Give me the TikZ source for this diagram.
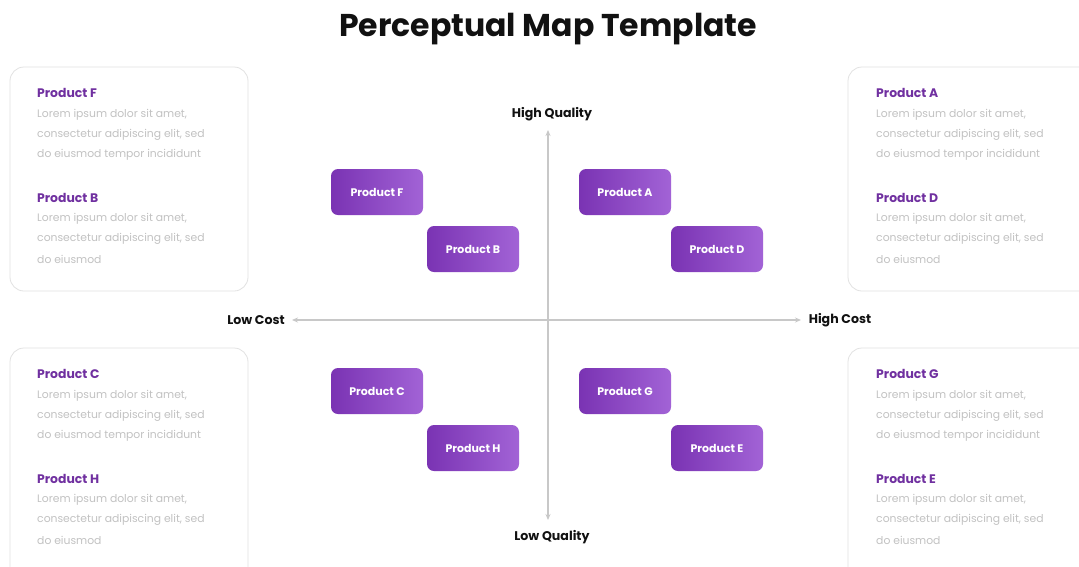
\documentclass[tikz,border=0pt]{standalone}
\usepackage{fontspec}
\setmainfont{Poppins}
\usetikzlibrary{arrows.meta}
\definecolor{ptitle}{HTML}{111111}
\definecolor{phead}{HTML}{7030A0}
\definecolor{plorem}{HTML}{C2C2C2}
\definecolor{pborder}{HTML}{E2E2E2}
\definecolor{pleft}{HTML}{7A33B3}
\definecolor{pright}{HTML}{A263D6}
\definecolor{paxis}{HTML}{C8C8C8}
\tikzset{
  x=1pt, y=-1pt,
  infobox/.style={draw=pborder, line width=0.8pt, rounded corners=14pt},
  head/.style={anchor=west, text=phead, font=\fontsize{12.4}{14}\selectfont\bfseries, inner sep=0pt},
  lorem/.style={anchor=west, text=plorem, font=\fontsize{10.8}{12}\selectfont, inner sep=0pt},
  prod/.style={rounded corners=7pt, left color=pleft, right color=pright, minimum width=92pt, minimum height=46pt, text=white, font=\fontsize{11}{13}\selectfont\bfseries, inner sep=0pt},
  axlabel/.style={font=\fontsize{12.6}{14}\selectfont\bfseries, text=ptitle, inner sep=0pt},
  axis/.style={draw=paxis, line width=1.2pt, {Stealth[length=6pt,width=5pt]}-{Stealth[length=6pt,width=5pt]}}
}
\begin{document}
\begin{tikzpicture}
\useasboundingbox[fill=white] (0,0) rectangle (1079,566);
\clip (0,0) rectangle (1079,566);
\node[font=\fontsize{31.5}{34}\selectfont\bfseries, text=ptitle] (title) at (548,29) {Perceptual Map Template};

% info boxes
\draw[infobox] (10,67) rectangle (248,291);
\draw[infobox] (10,348) rectangle (248,590);
\draw[infobox] (848,67) rectangle (1110,291);
\draw[infobox] (848,348) rectangle (1110,590);

\newcommand{\infotext}[4]{%
  \node[head] at (#1,#2) {#3};
  \node[lorem] at (#1,#2+22) {Lorem ipsum dolor sit amet,};
  \node[lorem] at (#1,#2+42) {consectetur adipiscing elit, sed};
  \node[lorem] at (#1,#2+62) {do eiusmod tempor incididunt};
  \node[head] at (#1,#2+105) {#4};
  \node[lorem] at (#1,#2+126) {Lorem ipsum dolor sit amet,};
  \node[lorem] at (#1,#2+146) {consectetur adipiscing elit, sed};
  \node[lorem] at (#1,#2+166) {do eiusmod};
}
\infotext{37}{93}{Product F}{Product B}
\infotext{37}{374}{Product C}{Product H}
\infotext{876}{93}{Product A}{Product D}
\infotext{876}{374}{Product G}{Product E}

% axes
\node[axlabel] (hq) at (552,114) {High Quality};
\node[axlabel] (lq) at (552,537) {Low Quality};
\node[axlabel] (lc) at (256,320) {Low Cost};
\node[axlabel] (hc) at (840,320) {High Cost};
\coordinate (vtop) at (548,130);
\coordinate (vbot) at (548,520);
\coordinate (hl) at (292,320);
\coordinate (hr) at (801,320);
\draw[axis] (vtop) -- (vbot);
\draw[axis] (hl) -- (hr);

% products
\node[prod] (pF) at (377,192) {Product F};
\node[prod] (pB) at (473,249) {Product B};
\node[prod] (pA) at (625,192) {Product A};
\node[prod] (pD) at (717,249) {Product D};
\node[prod] (pC) at (377,391) {Product C};
\node[prod] (pH) at (473,448) {Product H};
\node[prod] (pG) at (625,391) {Product G};
\node[prod] (pE) at (717,448) {Product E};
\end{tikzpicture}
\end{document}
